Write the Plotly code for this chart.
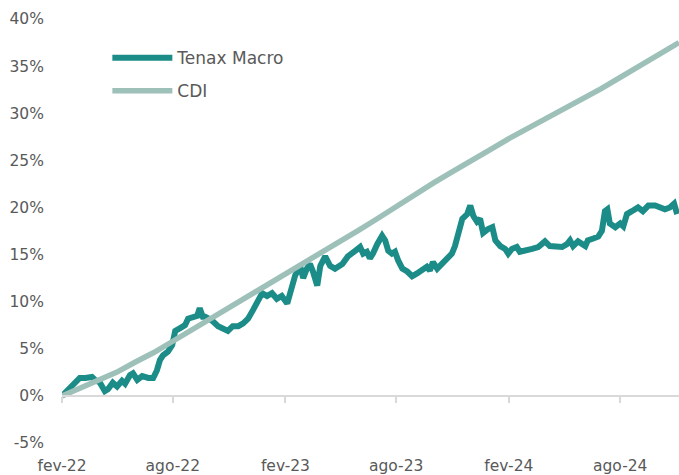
import plotly.graph_objects as go

# ---------------- data ----------------
tenax_dates = [
    "2022-02-01", "2022-02-11", "2022-02-22", "2022-03-02", "2022-03-11", "2022-03-22", "2022-03-27",
    "2022-04-04", "2022-04-12", "2022-04-17", "2022-04-25", "2022-05-02", "2022-05-10", "2022-05-15",
    "2022-05-23", "2022-05-28", "2022-06-04", "2022-06-12", "2022-06-22", "2022-06-30", "2022-07-06",
    "2022-07-11", "2022-07-16", "2022-07-24", "2022-07-31", "2022-08-05", "2022-08-13", "2022-08-21",
    "2022-08-26", "2022-09-03", "2022-09-10", "2022-09-14", "2022-09-19", "2022-09-23", "2022-10-04",
    "2022-10-14", "2022-10-22", "2022-10-30", "2022-11-07", "2022-11-16", "2022-11-24", "2022-12-02",
    "2022-12-10", "2022-12-17", "2022-12-25", "2023-01-02", "2023-01-10", "2023-01-18", "2023-01-26",
    "2023-02-04", "2023-02-12", "2023-02-17", "2023-02-25", "2023-03-02", "2023-03-08", "2023-03-13",
    "2023-03-18", "2023-03-25", "2023-03-30", "2023-04-07", "2023-04-15", "2023-04-23", "2023-05-05",
    "2023-05-14", "2023-05-26", "2023-06-03", "2023-06-08", "2023-06-14", "2023-06-19", "2023-06-24",
    "2023-07-01", "2023-07-09", "2023-07-14", "2023-07-19", "2023-07-25", "2023-07-30", "2023-08-04",
    "2023-08-11", "2023-08-19", "2023-08-27", "2023-09-04", "2023-09-12", "2023-09-20", "2023-09-25",
    "2023-09-30", "2023-10-07", "2023-10-15", "2023-10-23", "2023-10-31", "2023-11-05", "2023-11-10",
    "2023-11-17", "2023-11-25", "2023-11-30", "2023-12-05", "2023-12-11", "2023-12-16", "2023-12-21",
    "2023-12-29", "2024-01-05", "2024-01-10", "2024-01-18", "2024-01-26", "2024-01-31", "2024-02-06",
    "2024-02-14", "2024-02-19", "2024-02-28", "2024-03-10", "2024-03-20", "2024-03-31", "2024-04-08",
    "2024-04-20", "2024-04-28", "2024-05-06", "2024-05-11", "2024-05-16", "2024-05-24", "2024-06-05",
    "2024-06-09", "2024-06-18", "2024-06-26", "2024-07-02", "2024-07-07", "2024-07-11", "2024-07-15",
    "2024-07-24", "2024-08-01", "2024-08-06", "2024-08-12", "2024-08-20", "2024-08-30", "2024-09-07",
    "2024-09-16", "2024-09-27", "2024-10-05", "2024-10-13", "2024-10-21", "2024-10-28", "2024-11-02",
]
tenax_values = [
    0.0, 0.6, 1.4, 1.9, 1.9, 2.0, 1.7,
    1.4, 0.5, 0.7, 1.4, 1.0, 1.6, 1.3,
    2.2, 2.4, 1.7, 2.1, 1.9, 1.9, 2.7,
    3.8, 4.3, 4.7, 5.4, 6.9, 7.2, 7.5,
    8.2, 8.4, 8.5, 9.3, 8.4, 8.4, 8.0,
    7.4, 7.2, 6.9, 7.4, 7.4, 7.7, 8.2,
    9.1, 10.0, 10.9, 10.6, 10.9, 10.3, 10.6,
    9.8, 11.7, 12.8, 13.8, 12.5, 13.5, 14.0,
    13.2, 11.7, 13.8, 14.8, 13.8, 13.5, 14.0,
    14.8, 15.4, 15.8, 15.1, 15.3, 14.6, 15.1,
    16.1, 17.0, 16.5, 15.4, 15.1, 15.3, 14.4,
    13.5, 13.2, 12.7, 13.0, 13.3, 13.7, 13.3,
    14.2, 13.5, 14.0, 14.6, 15.1, 15.9, 16.9,
    18.8, 19.3, 20.2, 19.1, 18.5, 18.8, 17.3,
    17.7, 17.9, 16.5, 15.9, 15.6, 15.1, 15.6,
    15.8, 15.3, 15.4, 15.6, 15.8, 16.4, 15.9,
    15.9, 15.8, 16.1, 16.5, 15.9, 16.4, 15.9,
    16.5, 16.7, 16.9, 17.5, 19.6, 19.8, 18.3,
    17.9, 18.3, 18.0, 19.3, 19.6, 20.0, 19.6,
    20.2, 20.2, 20.0, 19.8, 20.0, 20.4, 19.3,
]

cdi_dates = [
    "2022-02-01", "2022-03-01", "2022-04-01", "2022-05-01", "2022-06-01", "2022-07-01",
    "2022-08-01", "2022-09-01", "2022-10-01", "2022-11-01", "2022-12-01", "2023-01-01",
    "2023-02-01", "2023-03-01", "2023-04-01", "2023-05-01", "2023-06-01", "2023-07-01",
    "2023-08-01", "2023-09-01", "2023-10-01", "2023-11-01", "2023-12-01", "2024-01-01",
    "2024-02-01", "2024-03-01", "2024-04-01", "2024-05-01", "2024-06-01", "2024-07-01",
    "2024-08-01", "2024-09-01", "2024-10-01", "2024-11-01", "2024-11-05",
]
cdi_values = [
    0.0, 0.75, 1.7, 2.5, 3.6, 4.6,
    5.8, 7.0, 8.2, 9.3, 10.4, 11.6,
    12.9, 13.9, 15.2, 16.3, 17.6, 18.8,
    20.1, 21.5, 22.6, 23.8, 25.0, 26.1,
    27.3, 28.3, 29.4, 30.5, 31.6, 32.6,
    33.8, 35.0, 36.1, 37.3, 37.5,
]

x_tick_dates = ["2022-02-01", "2022-08-01", "2023-02-01", "2023-08-01", "2024-02-01", "2024-08-01"]
x_tick_labels = ["fev-22", "ago-22", "fev-23", "ago-23", "fev-24", "ago-24"]
y_ticks = [-5, 0, 5, 10, 15, 20, 25, 30, 35, 40]
y_tick_labels = ["-5%", "0%", "5%", "10%", "15%", "20%", "25%", "30%", "35%", "40%"]

# ---------------- styling ----------------
TENAX_COLOR = "#1B8C87"
CDI_COLOR = "#9DC0B8"
TEXT_COLOR = "#595959"
AXIS_COLOR = "#D9D9D9"
FONT = "DejaVu Sans"
TICK_SIZE = 15.5
LEGEND_SIZE = 17
X_RANGE = ["2022-02-01", "2024-11-05"]
Y_RANGE = [-5, 40]

fig = go.Figure()
fig.add_trace(go.Scatter(
    x=tenax_dates, y=tenax_values, mode="lines", name="Tenax Macro",
    line=dict(color=TENAX_COLOR, width=6), legendgroup="a",
))
fig.add_trace(go.Scatter(
    x=cdi_dates, y=cdi_values, mode="lines", name="CDI",
    line=dict(color=CDI_COLOR, width=5.5), legendgroup="b",
))
# invisible helper trace so the zero-line axis (ticks at y=0) is drawn
fig.add_trace(go.Scatter(
    x=cdi_dates, y=cdi_values, xaxis="x2", mode="lines",
    line=dict(width=0), showlegend=False, hoverinfo="skip", opacity=0,
))

zero_pos = (0 - Y_RANGE[0]) / (Y_RANGE[1] - Y_RANGE[0])

fig.update_layout(
    width=679, height=475,
    margin=dict(l=62, r=0, t=19, b=30),
    paper_bgcolor="white", plot_bgcolor="white",
    font=dict(family=FONT, size=TICK_SIZE, color=TEXT_COLOR),
    showlegend=True,
    legend=dict(
        x=0.0735, y=0.95, xanchor="left", yanchor="top",
        font=dict(family=FONT, size=LEGEND_SIZE, color=TEXT_COLOR),
        bgcolor="rgba(0,0,0,0)", traceorder="grouped", tracegroupgap=8,
        itemwidth=60,
    ),
    xaxis=dict(
        type="date", range=X_RANGE,
        tickvals=x_tick_dates, ticktext=x_tick_labels,
        showgrid=False, zeroline=False, showline=False,
        ticks="outside", ticklen=8, tickcolor="rgba(0,0,0,0)",
        tickfont=dict(family=FONT, size=TICK_SIZE, color=TEXT_COLOR),
    ),
    xaxis2=dict(
        type="date", range=X_RANGE, overlaying="x", anchor="free",
        position=zero_pos, side="bottom",
        tickvals=x_tick_dates, showticklabels=False,
        showgrid=False, zeroline=False,
        showline=True, linecolor=AXIS_COLOR, linewidth=2,
        ticks="outside", ticklen=6, tickwidth=2, tickcolor=AXIS_COLOR,
    ),
    yaxis=dict(
        range=Y_RANGE, tickvals=y_ticks, ticktext=y_tick_labels,
        showgrid=False, zeroline=False, showline=False,
        ticks="outside", ticklen=14, tickcolor="rgba(0,0,0,0)",
        tickfont=dict(family=FONT, size=TICK_SIZE, color=TEXT_COLOR),
    ),
)

# remove the default 8px page margin so the 679x475 figure fills the window exactly
fig.write_html(
    "out.html",
    config={"displayModeBar": False},
    post_script="document.body.style.margin='0px';",
)
